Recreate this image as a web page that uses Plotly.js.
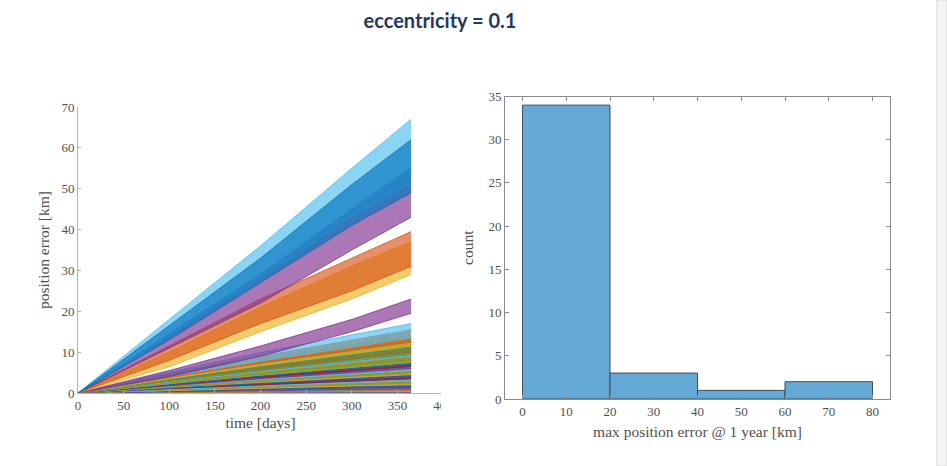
<!DOCTYPE html>
<html>
<head>
<meta charset="utf-8">
<script src="https://cdn.plot.ly/plotly-3.0.1.min.js"></script>
<style>html,body{margin:0;padding:0;background:#fff;}#chart{width:947px;height:466px;}</style>
</head>
<body>
<div id="chart"></div>
<script>
// ---- left panel: oscillating position-error curves, given as the envelope (trough / peak) read at these days
const timeDays = [0, 100, 200, 300, 365];
const seriesColors = [
  '#0072BD','#4DBEEE','#7E2F8E','#D95319','#EDB120','#7E2F8E',
  '#4DBEEE','#D95319','#EDB120','#77AC30','#0072BD','#A2142F','#7E2F8E','#4DBEEE','#77AC30','#D95319',
  '#EDB120','#0072BD','#A2142F','#7E2F8E','#4DBEEE','#77AC30','#D95319','#EDB120','#0072BD','#A2142F',
  '#7E2F8E','#4DBEEE','#77AC30','#D95319','#EDB120','#0072BD','#A2142F','#7E2F8E','#4DBEEE','#77AC30',
  '#D95319','#EDB120','#0072BD','#7E2F8E'
];
const peakKm = [
  [0,16.5,33,51,62],[0,18,36,55,67],[0,14.5,29,45,55],[0,11.5,23,33,39.5],[0,10,21,31,37],[0,5.5,11.5,18,23],
  [0,5.1,9.9,14.3,17],[0,4.7,9,13,15.5],[0,4.5,8.7,12.6,15],[0,4.2,8.1,11.8,14],[0,4.1,7.8,11.3,13.5],
  [0,3.9,7.5,10.9,13],[0,3.6,7,10.1,12],[0,3.5,6.7,9.7,11.5],[0,3.3,6.4,9.2,11],[0,3.2,6.1,8.8,10.5],
  [0,3,5.8,8.4,10],[0,2.9,5.5,8,9.5],[0,2.7,5.2,7.6,9],[0,2.6,4.9,7.1,8.5],[0,2.4,4.6,6.7,8],
  [0,2.3,4.4,6.3,7.5],[0,2.1,4.1,5.9,7],[0,2,3.8,5.5,6.5],[0,1.8,3.5,5,6],[0,1.7,3.2,4.6,5.5],
  [0,1.5,2.9,4.2,5],[0,1.4,2.6,3.8,4.5],[0,1.2,2.3,3.4,4],[0,1.1,2,2.9,3.5],[0,0.9,1.7,2.5,3],
  [0,0.8,1.6,2.4,2.8],[0,0.8,1.5,2.1,2.5],[0,0.6,1.2,1.7,2],[0,0.5,1,1.5,1.8],[0,0.5,0.9,1.3,1.5],
  [0,0.4,0.7,1,1.2],[0,0.3,0.6,0.8,1],[0,0.2,0.4,0.6,0.7],[0,0.1,0.2,0.3,0.4]
];
const troughKm = [
  [0,13,27,41,49],[0,14,28,43,51],[0,11,22,35,43],[0,8,17,25,31],[0,6.4,15,23,29],[0,4,9,15,19.5],
  [0,4,7.8,11.3,13.5],[0,3.8,7.3,10.5,12.5],[0,3.5,6.7,9.7,11.5],[0,2.9,5.5,8,9.5],[0,3.3,6.4,9.2,11],
  [0,3,5.8,8.4,10],[0,2.9,5.5,8,9.5],[0,2.7,5.2,7.6,9],[0,2.3,4.4,6.3,7.5],[0,2.4,4.6,6.7,8],
  [0,2.3,4.4,6.3,7.5],[0,2.1,4.1,5.9,7],[0,2,3.8,5.5,6.5],[0,1.8,3.5,5,6],[0,1.7,3.2,4.6,5.5],
  [0,1.5,2.9,4.2,5],[0,1.5,2.9,4.2,5],[0,1.4,2.6,3.8,4.5],[0,1.2,2.3,3.4,4],[0,1.1,2,2.9,3.5],
  [0,1.1,2,2.9,3.5],[0,0.9,1.7,2.5,3],[0,0.8,1.5,2.1,2.5],[0,0.8,1.5,2.1,2.5],[0,0.6,1.2,1.7,2],
  [0,0.5,0.9,1.3,1.5],[0,0.5,0.9,1.3,1.5],[0,0.3,0.6,0.8,1],[0,0.3,0.6,0.8,1],[0,0.2,0.5,0.7,0.8],
  [0,0.2,0.3,0.5,0.6],[0,0.1,0.2,0.3,0.4],[0,0.1,0.2,0.3,0.3],[0,0,0.1,0.1,0.1]
];
const xTicksLeft = [0,50,100,150,200,250,300,350,400];
const yTicksLeft = [0,10,20,30,40,50,60,70];

// ---- right panel: histogram of max position error @ 1 year
const binEdges = [0, 20, 40, 60, 80];
const binCounts = [34, 3, 1, 2];
const xTicksRight = [0,10,20,30,40,50,60,70,80];
const yTicksRight = [0,5,10,15,20,25,30,35];

function hexA(h, a){
  const r=parseInt(h.substr(1,2),16), g=parseInt(h.substr(3,2),16), b=parseInt(h.substr(5,2),16);
  return 'rgba('+r+','+g+','+b+','+a+')';
}

const traces = [];
for (let i = seriesColors.length - 1; i >= 0; i--) {
  const c = seriesColors[i];
  traces.push({x: timeDays, y: troughKm[i], type:'scatter', mode:'lines',
    line:{color:c, width:0.8}, xaxis:'x', yaxis:'y', hoverinfo:'skip', showlegend:false});
  traces.push({x: timeDays, y: peakKm[i], type:'scatter', mode:'lines', fill:'tonexty',
    fillcolor:hexA(c,0.65), line:{color:c, width:0.8}, xaxis:'x', yaxis:'y', hoverinfo:'skip', showlegend:false});
}
const binCenters = binCounts.map((_, i) => (binEdges[i] + binEdges[i+1]) / 2);
const binWidths = binCounts.map((_, i) => binEdges[i+1] - binEdges[i]);
traces.push({x: binCenters, y: binCounts, width: binWidths, type:'bar',
  marker:{color:'#65A9D7', line:{color:'#3f4d5a', width:1}}, xaxis:'x2', yaxis:'y2', showlegend:false});

const W = 947, H = 466;
const tickFont = {family:'"Liberation Serif", "DejaVu Serif", serif', size:13, color:'#505050'};
const titleFont = {family:'"Liberation Serif", "DejaVu Serif", serif', size:15.5, color:'#505050'};

const layout = {
  width: W, height: H,
  margin:{l:0, r:0, t:0, b:0},
  paper_bgcolor:'#ffffff', plot_bgcolor:'rgba(0,0,0,0)',
  showlegend:false,
  bargap:0,
  title:{text:'<b>eccentricity = 0.1</b>', x:440/W, xanchor:'center', y:1-21/H, yanchor:'middle',
         font:{family:'Lato, "Open Sans", sans-serif', size:20, color:'#1F3864'}},
  xaxis:{domain:[78/W, 443/W], range:[0,400], tickvals:xTicksLeft, ticktext:xTicksLeft.map(String),
         showgrid:false, zeroline:false, showline:true, linecolor:'#b4b4b4', linewidth:1,
         ticks:'inside', ticklen:3, tickcolor:'#b4b4b4', tickfont:tickFont, anchor:'y',
         title:{text:'time [days]', font:titleFont, standoff:5}},
  yaxis:{domain:[(H-393)/H, (H-107)/H], range:[0,70], tickvals:yTicksLeft, ticktext:yTicksLeft.map(String),
         showgrid:false, zeroline:false, showline:true, linecolor:'#b4b4b4', linewidth:1,
         ticks:'inside', ticklen:3, tickcolor:'#b4b4b4', tickfont:tickFont, anchor:'x',
         title:{text:'position error [km]', font:titleFont, standoff:7}},
  xaxis2:{domain:[505/W, 890/W], range:[-4,84], tickvals:xTicksRight, ticktext:xTicksRight.map(String),
         showgrid:false, zeroline:false, showline:true, mirror:'ticks', linecolor:'#8a8a8a', linewidth:1,
         ticks:'inside', ticklen:4, tickcolor:'#8a8a8a', tickfont:tickFont, anchor:'y2',
         title:{text:'max position error @ 1 year [km]', font:titleFont, standoff:8}},
  yaxis2:{domain:[(H-399)/H, (H-96.5)/H], range:[0,35], tickvals:yTicksRight, ticktext:yTicksRight.map(String),
         showgrid:false, zeroline:false, showline:true, mirror:'ticks', linecolor:'#8a8a8a', linewidth:1,
         ticks:'inside', ticklen:4, tickcolor:'#8a8a8a', tickfont:tickFont, anchor:'x2',
         title:{text:'count', font:titleFont, standoff:10}},
  shapes:[
    {type:'rect', xref:'paper', yref:'paper', x0:441/W, x1:470/W, y0:(H-416)/H, y1:(H-390)/H,
     fillcolor:'#ffffff', line:{width:0}, layer:'above'},
    {type:'rect', xref:'paper', yref:'paper', x0:937/W, x1:1, y0:0, y1:1,
     fillcolor:'#f4f4f4', line:{color:'#d6d6d6', width:1}, layer:'above'}
  ]
};

Plotly.newPlot('chart', traces, layout, {displayModeBar:false, staticPlot:true});
</script>
</body>
</html>
